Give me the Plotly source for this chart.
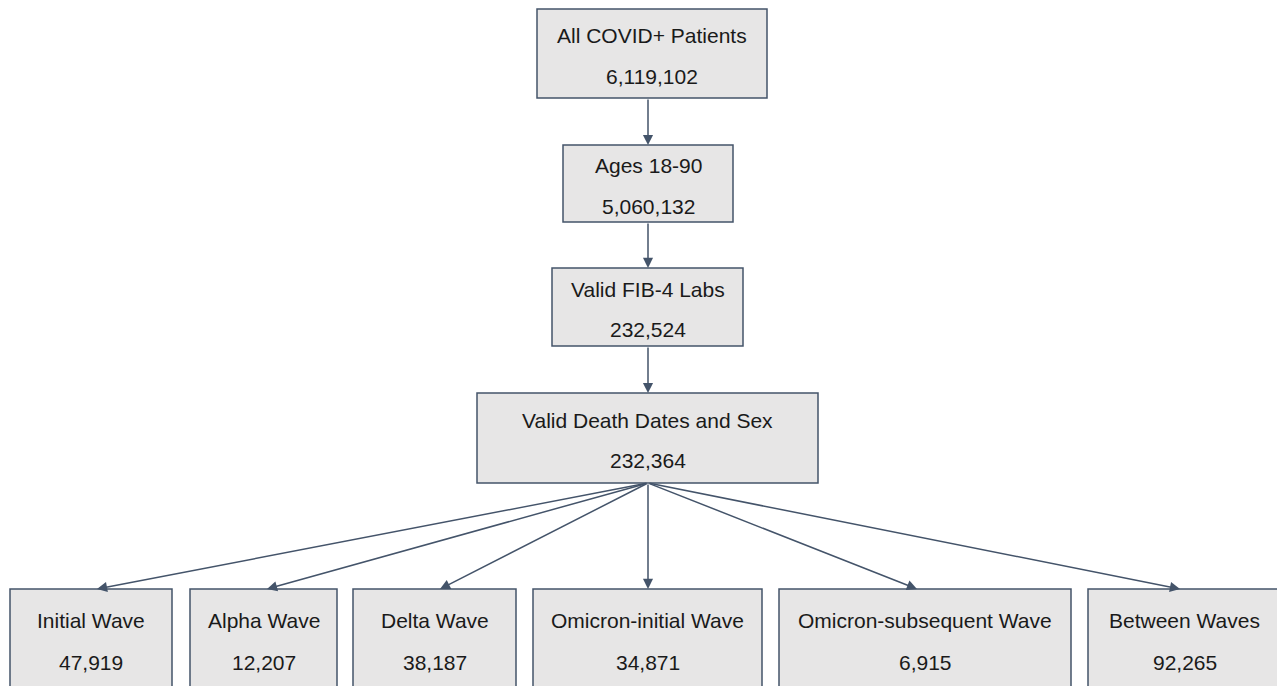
import plotly.graph_objects as go

# ---- data ----
stage_labels = ["All COVID+ Patients", "Ages 18-90", "Valid FIB-4 Labs", "Valid Death Dates and Sex"]
stage_counts = [6119102, 5060132, 232524, 232364]

wave_labels = ["Initial Wave", "Alpha Wave", "Delta Wave", "Omicron-initial Wave",
               "Omicron-subsequent Wave", "Between Waves"]
wave_counts = [47919, 12207, 38187, 34871, 6915, 92265]

# ---- layout geometry (page pixel space) ----
W, H = 1277, 686
stage_boxes = [  # x0, x1, y0, y1
    (537, 767, 9, 98),
    (563, 733, 145, 222),
    (552, 743, 268, 346),
    (477, 818, 393, 483),
]
wave_boxes = [
    (10, 172), (190, 337), (353, 516), (533, 762), (779, 1071), (1088, 1281),
]
wave_top, wave_bottom = 589, 705
wave_tips = [97, 267, 440, 648, 917, 1180]
trunk_x = 648

FILL = "#E7E6E6"
EDGE = "#44546A"
TXT = "#1a1a1a"
FONT = "Liberation Sans, Arial, sans-serif"
FS = 21

fig = go.Figure()
shapes = []
annotations = []


def add_box(x0, x1, y0, y1, label, count, ty1, ty2):
    shapes.append(dict(type="rect", xref="x", yref="y", x0=x0, x1=x1, y0=y0, y1=y1,
                       fillcolor=FILL, line=dict(color=EDGE, width=1.5), layer="below"))
    cx = (x0 + x1) / 2
    annotations.append(dict(x=cx, y=ty1, xref="x", yref="y", text=label, showarrow=False,
                            font=dict(family=FONT, size=FS, color=TXT), xanchor="center", yanchor="middle"))
    annotations.append(dict(x=cx, y=ty2, xref="x", yref="y", text=f"{count:,}", showarrow=False,
                            font=dict(family=FONT, size=FS, color=TXT), xanchor="center", yanchor="middle"))


def add_arrow(x_from, y_from, x_to, y_to):
    annotations.append(dict(x=x_to, y=y_to, ax=x_from, ay=y_from, xref="x", yref="y",
                            axref="x", ayref="y", text="", showarrow=True, arrowhead=2,
                            arrowsize=1.35, arrowwidth=1.5, arrowcolor=EDGE, standoff=0,
                            startstandoff=0))


for (x0, x1, y0, y1), lab, cnt in zip(stage_boxes, stage_labels, stage_counts):
    cy = (y0 + y1) / 2
    add_box(x0, x1, y0, y1, lab, cnt, cy - 18, cy + 22.5)

for (x0, x1), lab, cnt in zip(wave_boxes, wave_labels, wave_counts):
    add_box(x0, x1, wave_top, wave_bottom, lab, cnt, wave_top + 31, wave_top + 73)

# vertical arrows between stages
for i in range(len(stage_boxes) - 1):
    add_arrow(trunk_x, stage_boxes[i][3], trunk_x, stage_boxes[i + 1][2])

# fan-out arrows
for tx in wave_tips:
    add_arrow(trunk_x, stage_boxes[-1][3], tx, wave_top)

fig.update_layout(
    width=W, height=H,
    margin=dict(l=0, r=0, t=0, b=0),
    paper_bgcolor="white", plot_bgcolor="white",
    xaxis=dict(range=[0, W], visible=False, fixedrange=True),
    yaxis=dict(range=[H, 0], visible=False, fixedrange=True),
    shapes=shapes, annotations=annotations, showlegend=False,
)

fig.write_html(
    "out.html",
    config={"displayModeBar": False},
    post_script="document.body.style.margin='0';document.body.style.overflow='hidden';",
)
